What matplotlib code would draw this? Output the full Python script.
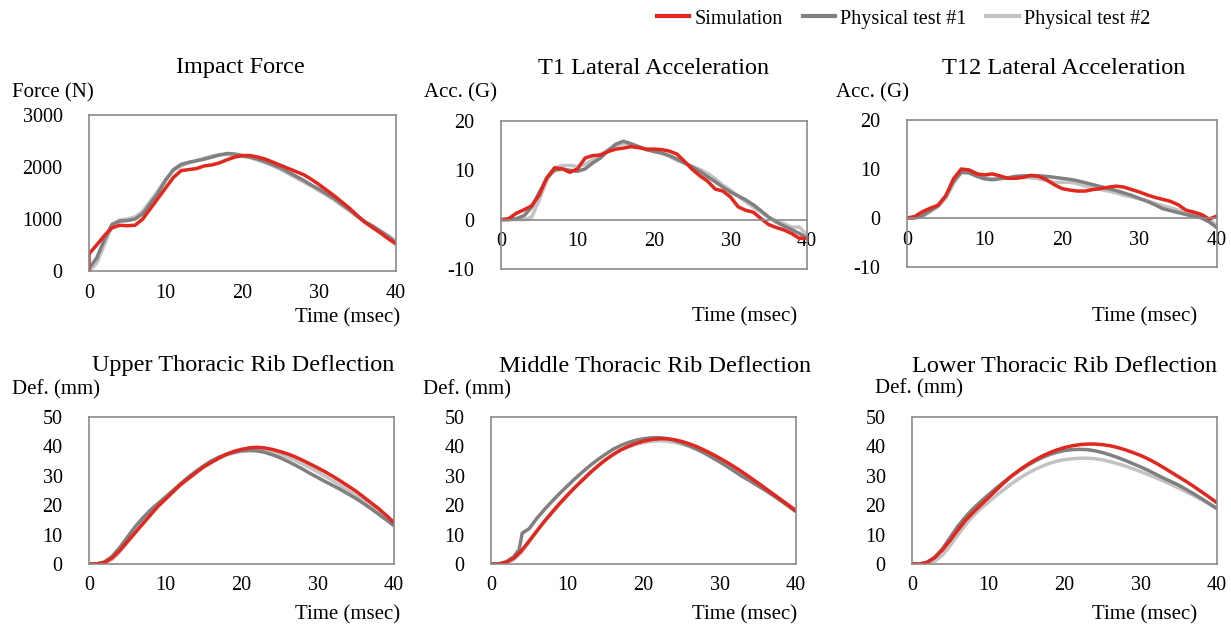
import numpy as np
import matplotlib
matplotlib.use("Agg")
import matplotlib.pyplot as plt
from matplotlib.lines import Line2D

plt.rcParams['font.family'] = ['Liberation Serif', 'DejaVu Serif']
plt.rcParams['axes.unicode_minus'] = False

# --- DATA (1 ms steps) ---
time = list(range(41))
time_force_sim = [0] + list(range(41))

force_sim = [0, 330, 500, 680, 830, 880, 870, 880, 1000, 1200, 1400, 1600, 1800, 1930, 1950, 1970, 2020,
             2040, 2080, 2140, 2190, 2220, 2220, 2190, 2150, 2090, 2030, 1970, 1910, 1850, 1760,
             1660, 1550, 1440, 1320, 1200, 1060, 930, 830, 730, 620, 520]
force_t1 = [50, 250, 600, 900, 960, 970, 1000, 1100, 1300, 1500, 1750, 1950, 2050, 2090, 2120, 2150,
            2190, 2230, 2260, 2250, 2220, 2190, 2150, 2100, 2040, 1980, 1900, 1820, 1740, 1650,
            1570, 1480, 1390, 1280, 1170, 1050, 940, 860, 760, 660, 540]
force_t2 = [0, 150, 500, 880, 980, 1000, 1040, 1150, 1350, 1550, 1760, 1930, 2020, 2080, 2120, 2170,
            2210, 2240, 2240, 2220, 2200, 2180, 2130, 2080, 2020, 1950, 1870, 1790, 1710, 1630,
            1540, 1450, 1360, 1250, 1150, 1040, 950, 860, 770, 680, 580]

t1acc_sim = [0, 0.2, 1.3, 2, 2.8, 5, 8.5, 10.5, 10.3, 9.6, 10.3, 12.5, 13, 13.1, 13.8, 14.3, 14.5,
             14.8, 14.6, 14.3, 14.3, 14.2, 13.9, 13.3, 11.8, 10.2, 8.9, 7.8, 6.2, 5.8, 4.6, 2.6,
             1.9, 1.5, 0.2, -1.0, -1.6, -2.1, -2.8, -3.8, -3.8]
t1acc_t1 = [0, 0, 0.2, 0.8, 2.5, 5.5, 8.5, 10, 10.3, 10, 9.8, 10.3, 11.5, 12.5, 14, 15.3, 15.9, 15.4,
            14.8, 14.2, 13.8, 13.5, 13, 12.3, 11.5, 10.7, 9.8, 8.7, 7.7, 6.6, 5.6, 4.8, 4, 3, 1.8,
            0.5, -0.5, -1.3, -2, -2.8, -3.8]
t1acc_t2 = [0, 0, 0, 0, 0.5, 4, 8, 10.5, 11, 11, 10.8, 11.2, 12.2, 13.2, 14.2, 15, 15.4, 15.2, 14.7,
            14.2, 14, 13.5, 12.8, 12, 11.4, 10.8, 10.2, 9.4, 8.3, 7, 6, 4.8, 3.6, 2.5, 1.5, 0.5,
            -0.3, -0.8, -1.5, -1.5, -3.2]

t12acc_sim = [0, 0.3, 1.3, 2, 2.6, 4.5, 8, 10, 9.8, 9, 8.8, 9, 8.6, 8.1, 8.1, 8.3, 8.7, 8.5, 7.8,
              6.8, 6, 5.7, 5.5, 5.5, 5.8, 6, 6.3, 6.5, 6.3, 5.8, 5.3, 4.7, 4.2, 3.8, 3.4, 2.7, 1.6,
              1.2, 0.7, -0.2, 0.4]
t12acc_t1 = [0, 0, 0.5, 1.5, 2.5, 4.5, 7.5, 9.3, 9.2, 8.5, 8, 7.8, 8, 8.2, 8.5, 8.6, 8.6, 8.6, 8.5,
             8.3, 8.1, 7.9, 7.6, 7.2, 6.8, 6.4, 6, 5.6, 5.1, 4.6, 4, 3.4, 2.7, 1.9, 1.5, 1.1, 0.7,
             0.4, 0, -0.8, -2]
t12acc_t2 = [0, 0, 0.3, 1.3, 2.3, 4, 7, 9.3, 9.8, 9.2, 8.3, 8, 8.2, 8.1, 8.2, 8.3, 8.2, 8, 7.6, 7.3,
             7.3, 7.3, 7, 6.5, 6.1, 5.8, 5.5, 5.1, 4.6, 4.3, 3.9, 3.5, 3, 2.5, 2.1, 1.6, 1.2, 0.8,
             0.3, -0.3, -1.5]

upper_sim = [0, 0, 0.5, 2, 4.5, 7.5, 10.5, 13.5, 16.5, 19.5, 22, 24.5, 27, 29, 31, 33, 34.5, 36, 37.3,
             38.3, 39, 39.5, 39.7, 39.5, 39, 38.3, 37.5, 36.5, 35.3, 34, 32.7, 31.3, 29.8, 28.2,
             26.5, 24.8, 22.8, 20.8, 18.8, 16.5, 14]
upper_t1 = [0, 0, 0.7, 2.5, 5.5, 9, 12.5, 15.5, 18.2, 20.5, 22.7, 25, 27.3, 29.5, 31.5, 33.3, 35, 36.3,
            37.3, 38, 38.5, 38.6, 38.5, 38, 37.2, 36.2, 35, 33.7, 32.3, 30.8, 29.4, 28, 26.7, 25.3,
            23.8, 22.3, 20.6, 18.8, 16.9, 15, 13]
upper_t2 = [0, 0, 0.2, 1.5, 4, 7.2, 10.5, 13.8, 16.8, 19.5, 22, 24.5, 26.8, 29, 31, 32.8, 34.5, 35.8,
            37, 37.8, 38.3, 38.6, 38.7, 38.5, 38, 37.3, 36.4, 35.3, 34, 32.7, 31.3, 29.8, 28.3, 26.7,
            25, 23.3, 21.6, 19.8, 18, 16.2, 14.5]

time_mid_t1 = [0, 1, 2, 3, 3.7, 4.1, 5] + list(range(6, 41))
middle_sim = [0, 0, 0.6, 2, 4.5, 7.8, 11.2, 14.5, 17.5, 20.5, 23.3, 26, 28.5, 31, 33.3, 35.4, 37.2,
              38.8, 40, 41, 41.8, 42.3, 42.6, 42.6, 42.3, 41.7, 40.9, 39.9, 38.7, 37.4, 36, 34.5,
              32.9, 31.2, 29.4, 27.6, 25.7, 23.8, 21.9, 20, 18]
middle_t1 = [0, 0, 0.8, 2.5, 5, 10.5, 12, 15.5, 18.5, 21.3, 24, 26.5, 29, 31.3, 33.5, 35.5, 37.3, 39,
             40.3, 41.3, 42.1, 42.6, 42.9, 43, 42.7, 42.1, 41.2, 40.2, 39, 37.7, 36.2, 34.7, 33.1,
             31.4, 29.7, 28.2, 26.6, 25, 23.3, 21.5, 19.7, 17.8]
middle_t2 = [0, 0, 0.2, 1.5, 4, 7.5, 11, 14.5, 17.8, 20.8, 23.5, 26.2, 28.8, 31.2, 33.4, 35.4, 37.2,
             38.7, 39.8, 40.7, 41.3, 41.7, 41.9, 41.8, 41.4, 40.8, 40, 39, 37.8, 36.5, 35, 33.5, 32,
             30.4, 28.8, 27.2, 25.5, 23.8, 22, 20.2, 18.5]

lower_sim = [0, 0, 0.6, 2.2, 4.8, 8, 11.5, 14.8, 17.5, 20, 22.5, 25, 27.5, 29.8, 31.8, 33.6, 35.2,
             36.6, 37.8, 38.8, 39.6, 40.2, 40.6, 40.8, 40.8, 40.6, 40.2, 39.6, 38.8, 37.9, 36.9,
             35.7, 34.3, 32.8, 31.2, 29.6, 28, 26.3, 24.5, 22.7, 20.8]
lower_t1 = [0, 0, 0.6, 2.3, 5.2, 9, 12.8, 16, 18.8, 21.2, 23.5, 25.7, 27.8, 29.8, 31.6, 33.3, 34.8,
            36.1, 37.2, 38, 38.6, 38.9, 39, 38.9, 38.5, 37.9, 37.1, 36.2, 35.2, 34.1, 33, 31.8,
            30.5, 29.2, 28, 26.8, 25.3, 23.8, 22.2, 20.5, 18.8]
lower_t2 = [0, 0, 0.1, 1, 3, 6.2, 9.8, 13.3, 16.3, 18.8, 21, 23.2, 25.2, 27.2, 29, 30.6, 32, 33.2,
            34.2, 35, 35.5, 35.8, 36, 36, 35.8, 35.4, 34.8, 34.1, 33.3, 32.4, 31.4, 30.4, 29.3,
            28.2, 27, 25.8, 24.5, 23.2, 21.8, 20.4, 19]

titles = ["Impact Force", "T1 Lateral Acceleration", "T12 Lateral Acceleration",
          "Upper Thoracic Rib Deflection", "Middle Thoracic Rib Deflection", "Lower Thoracic Rib Deflection"]
ylabels = ["Force (N)", "Acc. (G)", "Acc. (G)", "Def. (mm)", "Def. (mm)", "Def. (mm)"]
series_names = ["Simulation", "Physical test #1", "Physical test #2"]

# --- STYLE ---
W, H = 1231, 628
RED = "#e2271f"
DARK = "#808080"
LIGHT = "#c3c3c3"
FRAME = "#8a8a8a"
LW = 2.5

fig = plt.figure(figsize=(W / 100, H / 100), dpi=100)


def fx(x):
    return x / W


def fy(y):
    return 1 - y / H


def make_axes(l, t, r, b):
    return fig.add_axes([fx(l), fy(b), (r - l) / W, (b - t) / H])


# pixel boxes: left, top, right, bottom
boxes = [(89, 115, 396, 271), (501, 121, 807, 269), (907, 120, 1217, 267),
         (89, 417, 394, 564), (491, 417, 796, 564), (912, 417, 1217, 564)]
title_pos = [(240, 68), (654, 68), (1064, 68), (243, 366), (655, 366), (1065, 366)]
ylabel_pos = [(12, 93), (424, 93), (836, 93), (12, 390), (423, 390), (875, 389)]
xlabel_pos = [(400, 318), (797, 317), (1197, 317), (400, 615), (797, 615), (1197, 615)]

panels = [
    (time_force_sim, force_sim, time, force_t1, time, force_t2, (0, 3000), [0, 1000, 2000, 3000]),
    (time, t1acc_sim, time, t1acc_t1, time, t1acc_t2, (-10, 20), [-10, 0, 10, 20]),
    (time, t12acc_sim, time, t12acc_t1, time, t12acc_t2, (-10, 20), [-10, 0, 10, 20]),
    (time, upper_sim, time, upper_t1, time, upper_t2, (0, 50), [0, 10, 20, 30, 40, 50]),
    (time, middle_sim, time_mid_t1, middle_t1, time, middle_t2, (0, 50), [0, 10, 20, 30, 40, 50]),
    (time, lower_sim, time, lower_t1, time, lower_t2, (0, 50), [0, 10, 20, 30, 40, 50]),
]

for i, (ts, s, ta, a, tb, b, ylim, yt) in enumerate(panels):
    ax = make_axes(*boxes[i])
    ax.plot(tb, b, color=LIGHT, lw=LW, solid_capstyle='round')
    ax.plot(ta, a, color=DARK, lw=LW, solid_capstyle='round')
    ax.plot(ts, s, color=RED, lw=LW, solid_capstyle='round')
    ax.set_xlim(0, 40)
    ax.set_ylim(*ylim)
    ax.set_xticks([0, 10, 20, 30, 40])
    ax.set_yticks(yt)
    for sp in ax.spines.values():
        sp.set_color(FRAME)
        sp.set_linewidth(1.2)
    ax.tick_params(length=0, labelsize=14.5)
    ax.tick_params(axis='x', pad=9)
    ax.tick_params(axis='y', pad=19)
    if ylim[0] < 0:
        # x axis crosses at zero, keep the box closed at the bottom
        ax.spines['bottom'].set_position(('data', 0))
        ax.plot([0, 1], [0, 0], transform=ax.transAxes, color=FRAME, lw=1.2, clip_on=False)
    fig.text(fx(title_pos[i][0]), fy(title_pos[i][1]), titles[i], ha='center', va='center', fontsize=17.5)
    fig.text(fx(ylabel_pos[i][0]), fy(ylabel_pos[i][1]), ylabels[i], ha='left', va='center', fontsize=15)
    fig.text(fx(xlabel_pos[i][0]), fy(xlabel_pos[i][1]), "Time (msec)", ha='right', va='center', fontsize=15)

handles = [Line2D([], [], color=c, lw=3) for c in (RED, DARK, LIGHT)]
fig.legend(handles, series_names, ncol=3, loc='center right', bbox_to_anchor=(fx(1150), fy(19)),
           frameon=False, fontsize=14.5, borderpad=0, borderaxespad=0, handlelength=1.6,
           handletextpad=0.25, columnspacing=1.0)

fig.savefig("out.png", dpi=100)
